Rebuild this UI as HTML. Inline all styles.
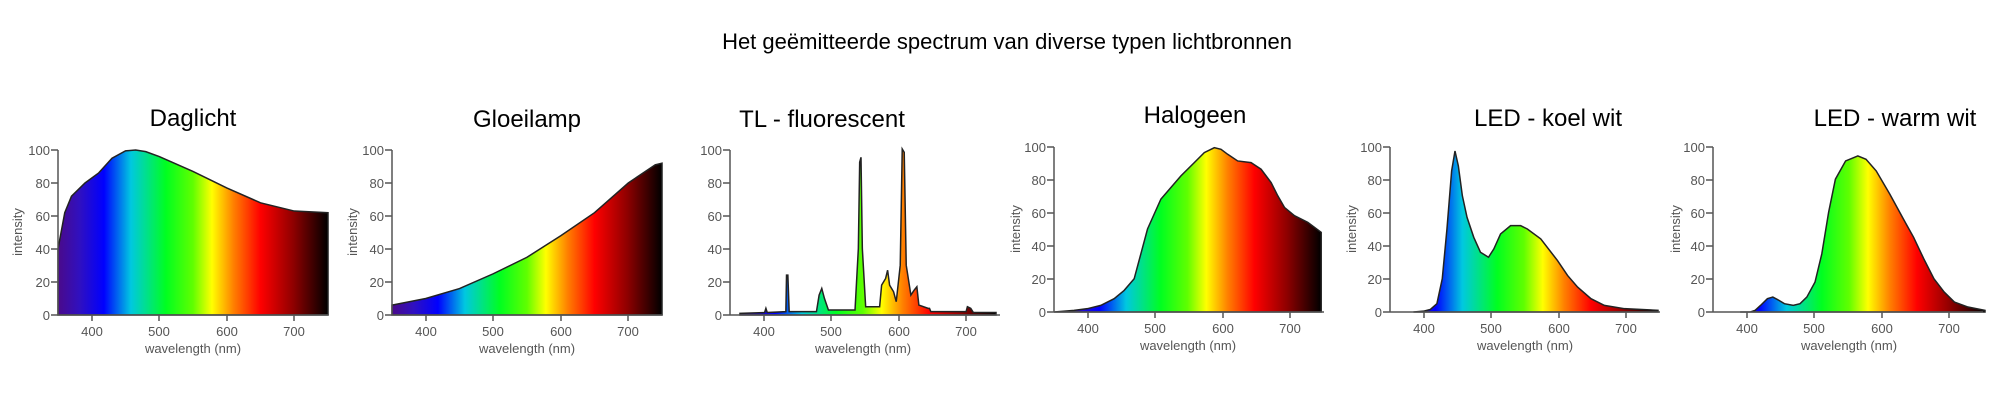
<!DOCTYPE html>
<html><head><meta charset="utf-8"><style>
html,body{margin:0;padding:0;background:#fff;width:2015px;height:400px;overflow:hidden}
svg{display:block}
.t{font-family:"Liberation Sans",sans-serif;fill:#000}
.k{font-family:"Liberation Sans",sans-serif;fill:#555;font-size:13px}
</style></head><body>
<svg width="2015" height="400" viewBox="0 0 2015 400" xmlns="http://www.w3.org/2000/svg">
<defs>
<linearGradient id="sp" gradientUnits="userSpaceOnUse" x1="0" y1="0" x2="400" y2="0">
<stop offset="0" stop-color="#4a0a8a"/>
<stop offset="0.08" stop-color="#3010c0"/>
<stop offset="0.17" stop-color="#0000ff"/>
<stop offset="0.27" stop-color="#00c8e0"/>
<stop offset="0.40" stop-color="#00ff20"/>
<stop offset="0.50" stop-color="#60ff00"/>
<stop offset="0.57" stop-color="#ffff00"/>
<stop offset="0.65" stop-color="#ff8000"/>
<stop offset="0.75" stop-color="#ff0000"/>
<stop offset="0.87" stop-color="#900000"/>
<stop offset="1" stop-color="#000000"/>
</linearGradient>
<g id="ax">
<path d="M0,0V-165M-7,0H270M-7,-33H0M-7,-66H0M-7,-99H0M-7,-132H0M-7,-165H0M34,0V6M101,0V6M169,0V6M236,0V6" stroke="#555" stroke-width="1.5" fill="none"/>
</g>
</defs>
<text class="t" x="1007" y="49" font-size="22" text-anchor="middle">Het geëmitteerde spectrum van diverse typen lichtbronnen</text>

<g transform="translate(58,315)">
<g transform="scale(0.675,-1.65)"><path fill="url(#sp)" stroke="#222" stroke-width="1.5" vector-effect="non-scaling-stroke" d="M0,0L0,40L10,62L20,72L40,80L60,86L80,95L100,99.5L115,100L130,99L150,96L200,87L250,77L300,68L350,63L400,62L400,0Z"/></g>
<use href="#ax"/>
</g>
<g transform="translate(392,315)">
<g transform="scale(0.675,-1.65)"><path fill="url(#sp)" stroke="#222" stroke-width="1.5" vector-effect="non-scaling-stroke" d="M0,0L0,6L50,10L100,16L150,25L200,35L250,48L300,62L350,80L390,91L400,92L400,0Z"/></g>
<use href="#ax"/>
</g>
<g transform="translate(730,315)">
<g transform="scale(0.665,-1.66)"><path fill="url(#sp)" stroke="#222" stroke-width="1.5" vector-effect="non-scaling-stroke" d="M15,0L15,1L52,1.5L54,4L56,1.5L84,2L85,24L87,24L89,2L130,2L134,12L138,16L142,10L148,3L188,3L193,40L195,92L197,95L199,40L204,5L225,5L228,18L234,22L237,27L240,18L246,14L250,8L256,30L259,100L262,98L265,30L272,12L277,15L281,17L284,6L298,4L300,4L302,2L355,2L357,5L362,4L366,1.5L400,1.5L400,0Z"/></g>
<use href="#ax"/>
</g>
<g transform="translate(1054,312)">
<g transform="scale(0.668,-1.66)"><path fill="url(#sp)" stroke="#222" stroke-width="1.5" vector-effect="non-scaling-stroke" d="M0,0L30,1L50,2L70,4L90,8L105,13L120,20L130,35L140,50L160,68L190,82L210,90L225,96L240,99L250,98L260,95L275,91L295,90L310,86L325,78L335,70L345,63L360,58L380,54L400,48L400,0Z"/></g>
<use href="#ax"/>
</g>
<g transform="translate(1390,312)">
<g transform="scale(0.67,-1.66)"><path fill="url(#sp)" stroke="#222" stroke-width="1.5" vector-effect="non-scaling-stroke" d="M35,0L50,0.5L60,1.5L70,5L78,20L85,50L92,85L97,97L102,88L108,70L115,57L125,45L135,36L147,33L155,38L165,47L180,52L195,52L205,50L225,44L250,31L265,22L280,15L300,8L320,4L350,2L400,1L400,0Z"/></g>
<use href="#ax"/>
</g>
<g transform="translate(1713,312)">
<g transform="scale(0.68,-1.66)"><path fill="url(#sp)" stroke="#222" stroke-width="1.5" vector-effect="non-scaling-stroke" d="M40,0L55,0L62,1L70,4L80,8L88,9L97,7L105,5L118,4L128,5L138,9L150,18L160,35L170,60L180,80L195,91L213,94L225,92L240,85L260,71L280,56L295,45L310,32L325,20L340,12L355,6L375,3L400,1L400,0Z"/></g>
<use href="#ax"/>
</g>

<text class="t" x="193" y="126" font-size="24" text-anchor="middle">Daglicht</text>
<text class="t" x="527" y="127" font-size="24" text-anchor="middle">Gloeilamp</text>
<text class="t" x="822" y="127" font-size="24" text-anchor="middle">TL - fluorescent</text>
<text class="t" x="1195" y="123" font-size="24" text-anchor="middle">Halogeen</text>
<text class="t" x="1548" y="126" font-size="24" text-anchor="middle">LED - koel wit</text>
<text class="t" x="1895" y="126" font-size="24" text-anchor="middle">LED - warm wit</text>

<g class="k" text-anchor="end">
<text x="50" y="320">0</text><text x="50" y="287">20</text><text x="50" y="254">40</text><text x="50" y="221">60</text><text x="50" y="188">80</text><text x="50" y="155">100</text>
<text x="384" y="320">0</text><text x="384" y="287">20</text><text x="384" y="254">40</text><text x="384" y="221">60</text><text x="384" y="188">80</text><text x="384" y="155">100</text>
<text x="722" y="320">0</text><text x="722" y="287">20</text><text x="722" y="254">40</text><text x="722" y="221">60</text><text x="722" y="188">80</text><text x="722" y="155">100</text>
<text x="1046" y="317">0</text><text x="1046" y="284">20</text><text x="1046" y="251">40</text><text x="1046" y="218">60</text><text x="1046" y="185">80</text><text x="1046" y="152">100</text>
<text x="1382" y="317">0</text><text x="1382" y="284">20</text><text x="1382" y="251">40</text><text x="1382" y="218">60</text><text x="1382" y="185">80</text><text x="1382" y="152">100</text>
<text x="1705" y="317">0</text><text x="1705" y="284">20</text><text x="1705" y="251">40</text><text x="1705" y="218">60</text><text x="1705" y="185">80</text><text x="1705" y="152">100</text>
</g>
<g class="k" text-anchor="middle">
<text x="92" y="336">400</text><text x="159" y="336">500</text><text x="227" y="336">600</text><text x="294" y="336">700</text>
<text x="426" y="336">400</text><text x="493" y="336">500</text><text x="561" y="336">600</text><text x="628" y="336">700</text>
<text x="764" y="336">400</text><text x="831" y="336">500</text><text x="899" y="336">600</text><text x="966" y="336">700</text>
<text x="1088" y="333">400</text><text x="1155" y="333">500</text><text x="1223" y="333">600</text><text x="1290" y="333">700</text>
<text x="1424" y="333">400</text><text x="1491" y="333">500</text><text x="1559" y="333">600</text><text x="1626" y="333">700</text>
<text x="1747" y="333">400</text><text x="1814" y="333">500</text><text x="1882" y="333">600</text><text x="1949" y="333">700</text>
<text x="193" y="353">wavelength (nm)</text>
<text x="527" y="353">wavelength (nm)</text>
<text x="863" y="353">wavelength (nm)</text>
<text x="1188" y="350">wavelength (nm)</text>
<text x="1525" y="350">wavelength (nm)</text>
<text x="1849" y="350">wavelength (nm)</text>
<text transform="translate(22,232) rotate(-90)">intensity</text>
<text transform="translate(357,232) rotate(-90)">intensity</text>
<text transform="translate(1020,229) rotate(-90)">intensity</text>
<text transform="translate(1356,229) rotate(-90)">intensity</text>
<text transform="translate(1680,229) rotate(-90)">intensity</text>
</g>
</svg>
</body></html>
